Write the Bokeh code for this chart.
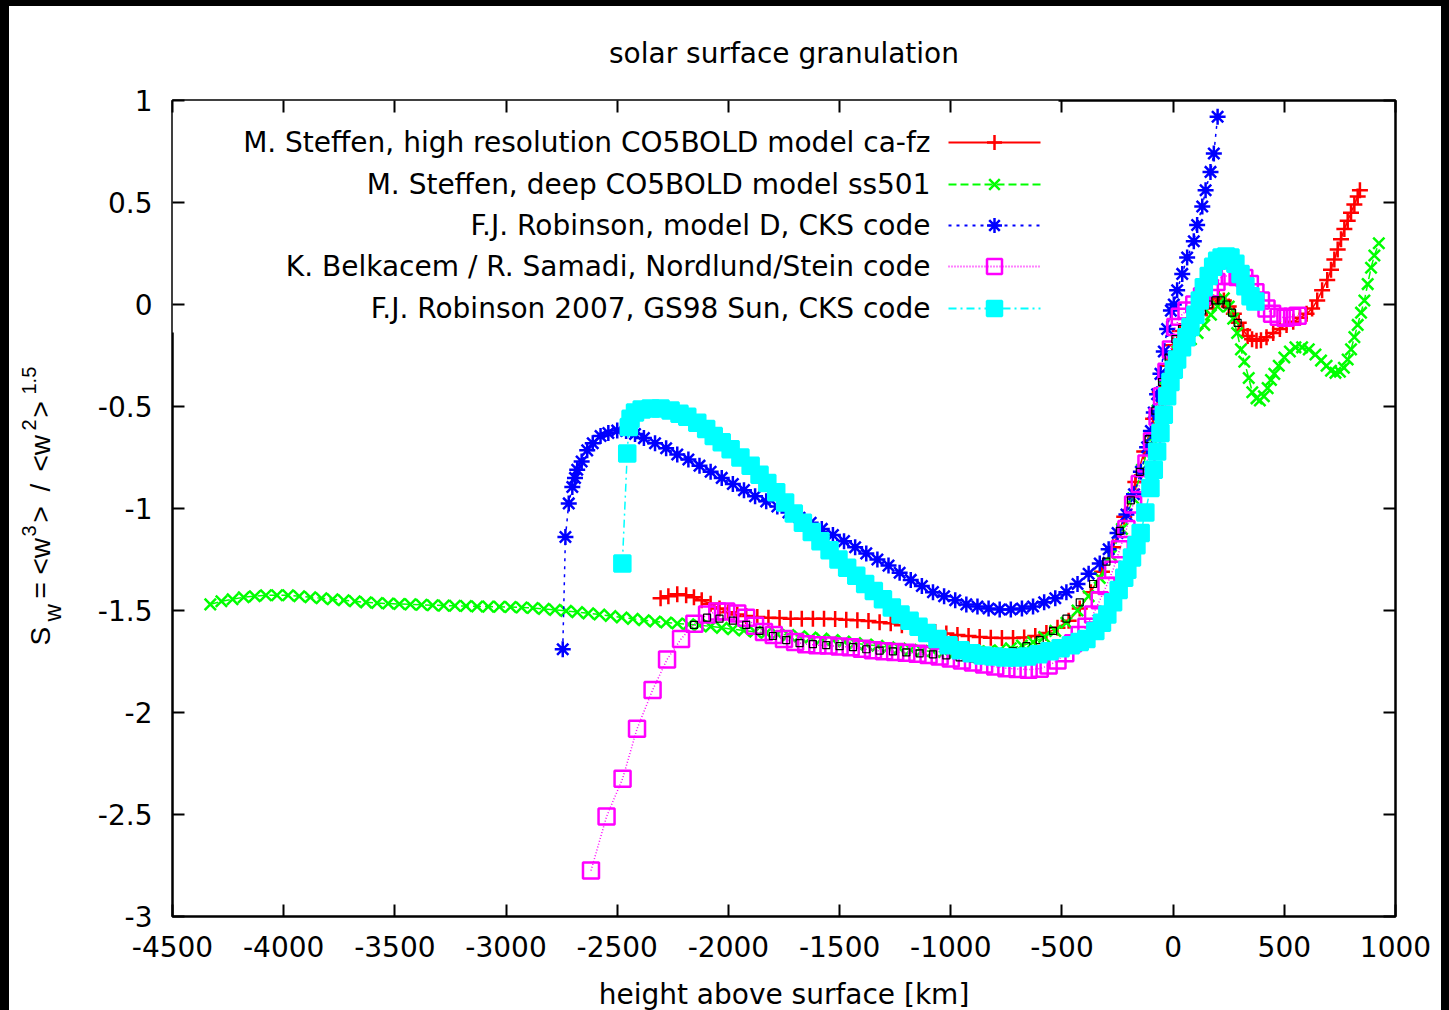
import math
from bokeh.plotting import figure
from bokeh.models import Range1d, FixedTicker, LinearAxis, Label, ColumnDataSource
from bokeh.core.properties import value
from bokeh.layouts import column, row
from bokeh.embed import file_html
from bokeh.resources import INLINE

# ---------------- data ----------------
title_text = "solar surface granulation"
x_label_text = "height above surface [km]"

x_ticks = [-4500, -4000, -3500, -3000, -2500, -2000, -1500, -1000, -500, 0, 500, 1000]
x_tick_labels = ["-4500", "-4000", "-3500", "-3000", "-2500", "-2000", "-1500", "-1000", "-500", "0", "500", "1000"]
y_ticks = [-3, -2.5, -2, -1.5, -1, -0.5, 0, 0.5, 1]
y_tick_labels = ["-3", "-2.5", "-2", "-1.5", "-1", "-0.5", "0", "0.5", "1"]

series_names = [
    "M. Steffen, high resolution CO5BOLD model ca-fz",
    "M. Steffen, deep CO5BOLD model ss501",
    "F.J. Robinson, model D, CKS code",
    "K. Belkacem / R. Samadi, Nordlund/Stein code",
    "F.J. Robinson 2007, GS98 Sun, CKS code",
]

red_x = [-2305, -2270, -2230, -2190, -2155, -2120, -2080, -2040, -2000, -1960, -1920, -1870, -1820,
         -1770, -1720, -1670, -1620, -1570, -1520, -1470, -1420, -1370, -1320, -1270, -1220, -1170,
         -1120, -1070, -1020, -970, -920, -870, -820, -770, -720, -670, -620, -570, -520, -470, -420,
         -370, -320, -270, -220, -170, -130, -90, -60, -30, 0, 30, 60, 90, 120, 150, 180, 205, 228,
         250, 273, 295, 315, 335, 355, 375, 395, 420, 450, 480, 510, 540, 570, 600, 625, 648, 670,
         693, 710, 725, 740, 755, 770, 785, 800, 815, 830, 840]
red_y = [-1.44, -1.43, -1.42, -1.425, -1.435, -1.45, -1.467, -1.49, -1.508, -1.52, -1.527, -1.532,
         -1.535, -1.537, -1.54, -1.54, -1.54, -1.54, -1.542, -1.545, -1.548, -1.552, -1.557, -1.563,
         -1.572, -1.583, -1.595, -1.605, -1.613, -1.62, -1.625, -1.63, -1.633, -1.635, -1.635, -1.632,
         -1.625, -1.61, -1.585, -1.55, -1.49, -1.41, -1.31, -1.19, -1.04, -0.87, -0.72, -0.56, -0.43,
         -0.30, -0.20, -0.13, -0.10, -0.08, -0.05, -0.02, 0.01, 0.03, 0.02, -0.01, -0.045, -0.09,
         -0.125, -0.155, -0.17, -0.178, -0.175, -0.16, -0.14, -0.12, -0.10, -0.085, -0.065, -0.045,
         -0.02, 0.02, 0.07, 0.12, 0.17, 0.22, 0.27, 0.32, 0.37, 0.41, 0.45, 0.49, 0.53, 0.56]

green_x = [-4330, -4280, -4230, -4180, -4130, -4080, -4030, -3980, -3930, -3880, -3830, -3780, -3730,
           -3680, -3630, -3580, -3530, -3480, -3430, -3380, -3330, -3280, -3230, -3180, -3130, -3080,
           -3030, -2980, -2930, -2880, -2830, -2780, -2730, -2680, -2630, -2580, -2530, -2480, -2430,
           -2380, -2330, -2280, -2230, -2180, -2130, -2080, -2030, -1980, -1930, -1880, -1830, -1780,
           -1730, -1680, -1630, -1580, -1530, -1480, -1430, -1380, -1330, -1280, -1230, -1180, -1130,
           -1080, -1030, -980, -930, -880, -830, -780, -730, -680, -630, -580, -530, -480, -430, -380,
           -330, -280, -230, -180, -140, -100, -70, -40, -10, 20, 50, 80, 110, 140, 170, 200, 228, 250,
           270, 288, 305, 320, 340, 356, 375, 390, 408, 425, 440, 455, 475, 500, 525, 550, 580, 610,
           640, 665, 690, 710, 730, 750, 768, 785, 800, 815, 830, 845, 860, 875, 890, 905, 925]
green_y = [-1.47, -1.455, -1.445, -1.435, -1.43, -1.425, -1.425, -1.425, -1.43, -1.435, -1.44, -1.445,
           -1.45, -1.455, -1.46, -1.463, -1.466, -1.468, -1.47, -1.472, -1.474, -1.476, -1.477, -1.478,
           -1.48, -1.481, -1.482, -1.483, -1.485, -1.488, -1.492, -1.497, -1.502, -1.508, -1.514, -1.52,
           -1.527, -1.534, -1.541, -1.548, -1.554, -1.559, -1.564, -1.568, -1.572, -1.578, -1.585,
           -1.592, -1.598, -1.604, -1.61, -1.615, -1.62, -1.626, -1.632, -1.638, -1.645, -1.652, -1.66,
           -1.667, -1.673, -1.68, -1.686, -1.692, -1.697, -1.70, -1.703, -1.705, -1.705, -1.703, -1.70,
           -1.695, -1.685, -1.672, -1.655, -1.63, -1.60, -1.56, -1.50, -1.43, -1.34, -1.23, -1.10,
           -0.95, -0.81, -0.65, -0.52, -0.40, -0.30, -0.23, -0.19, -0.17, -0.14, -0.10, -0.05, -0.01,
           0.03, -0.01, -0.07, -0.14, -0.22, -0.28, -0.36, -0.43, -0.46, -0.47, -0.45, -0.41, -0.37,
           -0.34, -0.30, -0.26, -0.23, -0.21, -0.21, -0.22, -0.245, -0.275, -0.30, -0.325, -0.335,
           -0.33, -0.31, -0.27, -0.22, -0.16, -0.10, -0.04, 0.02, 0.10, 0.18, 0.24, 0.30]

blue_x = [-2745, -2733, -2718, -2702, -2690, -2680, -2660, -2635, -2610, -2575, -2540, -2500, -2460,
          -2420, -2380, -2330, -2280, -2230, -2180, -2130, -2080, -2030, -1980, -1930, -1880, -1830,
          -1780, -1730, -1680, -1630, -1580, -1530, -1480, -1430, -1380, -1330, -1280, -1230, -1180,
          -1130, -1080, -1030, -980, -930, -880, -830, -780, -730, -680, -630, -580, -530, -480, -430,
          -380, -330, -290, -250, -210, -176, -145, -117, -100, -87, -72, -57, -42, -27, -10, 3, 18,
          41, 63, 93, 108, 131, 146, 168, 183, 200]
blue_y = [-1.69, -1.14, -0.975, -0.895, -0.85, -0.81, -0.77, -0.715, -0.68, -0.645, -0.63, -0.618,
          -0.62, -0.635, -0.655, -0.68, -0.705, -0.735, -0.76, -0.79, -0.82, -0.85, -0.88, -0.91,
          -0.94, -0.965, -0.99, -1.02, -1.045, -1.07, -1.10, -1.13, -1.16, -1.19, -1.22, -1.25, -1.28,
          -1.315, -1.35, -1.38, -1.41, -1.43, -1.45, -1.47, -1.48, -1.49, -1.495, -1.495, -1.49,
          -1.48, -1.46, -1.44, -1.41, -1.37, -1.32, -1.27, -1.20, -1.12, -1.03, -0.93, -0.82, -0.70,
          -0.62, -0.53, -0.44, -0.34, -0.23, -0.12, -0.03, 0.0, 0.07, 0.15, 0.23, 0.31, 0.39, 0.48,
          0.56, 0.65, 0.74, 0.92]

magenta_x = [-2618, -2548, -2476, -2411, -2341, -2276, -2213, -2153, -2096, -2050, -2010, -1960,
             -1920, -1880, -1840, -1796, -1750, -1700, -1650, -1600, -1550, -1500, -1450, -1400,
             -1350, -1300, -1250, -1200, -1150, -1100, -1050, -1000, -950, -900, -850, -800, -750,
             -700, -650, -600, -560, -520, -485, -450, -420, -390, -360, -330, -300, -270, -240,
             -210, -180, -150, -120, -95, -70, -50, -30, -10, 10, 30, 60, 95, 130, 165, 195, 225, 255,
             290, 320, 345, 370, 395, 420, 445, 475, 505, 535, 560]
magenta_y = [-2.775, -2.51, -2.325, -2.08, -1.89, -1.74, -1.64, -1.565, -1.52, -1.505, -1.505,
             -1.515, -1.535, -1.575, -1.605, -1.62, -1.64, -1.655, -1.665, -1.67, -1.672, -1.676,
             -1.68, -1.687, -1.695, -1.70, -1.703, -1.707, -1.712, -1.718, -1.725, -1.735, -1.745,
             -1.755, -1.765, -1.775, -1.783, -1.787, -1.79, -1.785, -1.77, -1.745, -1.71, -1.66,
             -1.62, -1.58, -1.52, -1.45, -1.38, -1.30, -1.20, -1.10, -0.98, -0.88, -0.78, -0.67,
             -0.55, -0.45, -0.33, -0.22, -0.11, -0.06, -0.03, 0.0, 0.04, 0.08, 0.11, 0.14, 0.14,
             0.135, 0.13, 0.10, 0.06, 0.02, -0.02, -0.045, -0.06, -0.065, -0.06, -0.055]

cyan_x = [-2477, -2455, -2448, -2440, -2420, -2390, -2350, -2305, -2260, -2220, -2185, -2140, -2100,
          -2066, -2030, -1990, -1946, -1900, -1860, -1825, -1785, -1745, -1706, -1665, -1625, -1586,
          -1545, -1505, -1466, -1425, -1385, -1346, -1305, -1265, -1226, -1185, -1145, -1106, -1060,
          -1010, -956, -906, -856, -806, -756, -706, -656, -606, -556, -506, -460, -420, -390, -350,
          -320, -296, -270, -245, -220, -206, -185, -165, -146, -125, -102, -87, -72, -57, -42, -27,
          -12, 3, 18, 40, 60, 78, 100, 120, 138, 160, 180, 198, 218, 238, 258, 280, 303, 325, 348, 370]
cyan_y = [-1.27, -0.73, -0.60, -0.56, -0.53, -0.515, -0.51, -0.51, -0.52, -0.535, -0.55, -0.58, -0.61,
          -0.645, -0.675, -0.71, -0.75, -0.79, -0.835, -0.875, -0.92, -0.97, -1.025, -1.07, -1.115,
          -1.16, -1.205, -1.25, -1.29, -1.33, -1.37, -1.405, -1.445, -1.485, -1.52, -1.55, -1.58,
          -1.61, -1.64, -1.67, -1.695, -1.71, -1.72, -1.725, -1.73, -1.73, -1.725, -1.715, -1.70,
          -1.685, -1.67, -1.655, -1.64, -1.60, -1.56, -1.52, -1.46, -1.40, -1.34, -1.30, -1.24, -1.18,
          -1.12, -1.02, -0.90, -0.81, -0.72, -0.63, -0.54, -0.45, -0.38, -0.32, -0.27, -0.21, -0.16,
          -0.11, -0.05, 0.02, 0.085, 0.14, 0.185, 0.215, 0.23, 0.235, 0.23, 0.20, 0.15, 0.09, 0.04,
          0.015]

black_x = [-2155, -2096, -2040, -1980, -1920, -1860, -1800, -1740, -1680, -1620, -1560, -1500, -1440,
           -1380, -1320, -1260, -1200, -1140, -1080, -1020, -960, -900, -840, -780, -720, -660, -600,
           -540, -480, -420, -360, -300, -240, -190, -150, -110, -80, -50, -20, 10, 40, 70, 100, 130,
           160, 190, 215, 240, 265, 290]
black_y = [-1.57, -1.535, -1.54, -1.55, -1.57, -1.60, -1.625, -1.645, -1.66, -1.665, -1.67, -1.675,
           -1.68, -1.69, -1.697, -1.70, -1.705, -1.71, -1.715, -1.72, -1.73, -1.735, -1.73, -1.715,
           -1.70, -1.675, -1.645, -1.60, -1.54, -1.46, -1.37, -1.26, -1.11, -0.96, -0.82, -0.66,
           -0.52, -0.38, -0.26, -0.17, -0.12, -0.09, -0.06, -0.03, 0.0, 0.02, 0.02, 0.0, -0.04, -0.09]

# y-axis label pieces: S_w = <w^3> / <w^2>^1.5
ylabel_texts = ["S", "w", "=", "<w", "3", ">", "/", "<w", "2", ">", "1.5"]
ylabel_kind = ["main", "sub", "main", "main", "sup", "main", "main", "main", "sup", "main", "sup"]

# ---------------- styles / layout ----------------
FONT = "DejaVu Sans"
FS = "28px"
colors = ["#ff0000", "#00ff00", "#0000ff", "#ff00ff", "#00ffff"]
markers = ["cross", "x", "asterisk", "square", "square"]
fills = [None, None, None, None, "#00ffff"]
dashes = ["solid", "8 4", "3 5", "1 2", "8 4 2 4"]

PAGE_W, PAGE_H = 1449, 1010
ML, MT, MR = 9, 6, 8           # black page border
INNER_W = PAGE_W - ML - MR     # 1432
LAB_W = 70                     # strip holding the rotated y label
FW, FH = 1223, 816             # plot frame size in px
FRAME_L, FRAME_R, FRAME_T, FRAME_B = 172, 1395, 100, 916   # page px
TOP_B = 84                     # bottom of the title strip (page y)
MID_B = 972                    # bottom of the plot row (page y)
TITLE_Y = 53                   # text anchors inside the strips
XLABEL_Y = 994


def text_strip(width, x0, y0, y1):
    """A bare figure whose frame spans the given page area, in page px units."""
    f = figure(width=width, height=y1 - y0, x_range=Range1d(x0, x0 + width),
               y_range=Range1d(y1, y0), output_backend="svg", toolbar_location=None,
               min_border=0, x_axis_type=None, y_axis_type=None)
    f.outline_line_color = None
    f.background_fill_color = "white"
    f.border_fill_color = "white"
    return f


# ---------------- title strip ----------------
tt = text_strip(INNER_W, ML, MT, TOP_B)
tt.text(x=[(FRAME_L + FRAME_R) / 2], y=[TITLE_Y], text=[title_text], text_align="center",
        text_baseline="alphabetic", text_font=value(FONT), text_font_size=FS, text_color="black")

# ---------------- x-label strip ----------------
xl = text_strip(INNER_W, ML, MID_B, PAGE_H)
xl.text(x=[(FRAME_L + FRAME_R) / 2], y=[XLABEL_Y], text=[x_label_text], text_align="center",
        text_baseline="alphabetic", text_font=value(FONT), text_font_size=FS, text_color="black")

# ---------------- y-label strip (frame = page y 100..916) ----------------
lab = figure(width=LAB_W, height=MID_B - TOP_B, x_range=Range1d(ML, ML + LAB_W),
             y_range=Range1d(FRAME_B, FRAME_T), output_backend="svg", toolbar_location=None,
             min_border_left=0, min_border_right=0, min_border_top=FRAME_T - TOP_B,
             min_border_bottom=MID_B - FRAME_B, x_axis_type=None, y_axis_type=None)
lab.outline_line_color = None
lab.background_fill_color = "white"
lab.border_fill_color = "white"

kind_size = {"main": "28px", "sub": "24px", "sup": "20px"}
kind_base = {"main": 40, "sub": 52, "sup": 28}
piece_start = [645, 621, 598, 574, 536, 522, 491, 471, 430, 417, 394]
lab_src = ColumnDataSource(dict(
    x=[kind_base[k] for k in ylabel_kind],
    y=piece_start,
    text=ylabel_texts,
    size=[kind_size[k] for k in ylabel_kind],
))
lab.text(x="x", y="y", text="text", source=lab_src, angle=math.pi / 2, text_align="left",
         text_baseline="alphabetic", text_font=value("Liberation Sans"), text_font_size="size",
         text_color="black")

# ---------------- main figure ----------------
p = figure(width=INNER_W - LAB_W, height=MID_B - TOP_B, title=None,
           x_range=Range1d(-4500, 1000), y_range=Range1d(-3, 1),
           output_backend="svg", toolbar_location=None,
           min_border_left=FRAME_L - ML - LAB_W, min_border_right=PAGE_W - MR - FRAME_R,
           min_border_top=FRAME_T - TOP_B, min_border_bottom=MID_B - FRAME_B,
           x_axis_type=None, y_axis_type=None)
p.background_fill_color = "white"
p.border_fill_color = "white"
p.outline_line_color = "black"
p.outline_line_width = 2.5
p.extra_x_ranges = {"lx": Range1d(0, FW)}
p.extra_y_ranges = {"ly": Range1d(FH, 0)}


def make_axis(ticks, labels, show):
    ax = LinearAxis(ticker=FixedTicker(ticks=ticks))
    ax.major_label_overrides = {t: (l if show else "") for t, l in zip(ticks, labels)}
    ax.major_label_text_font = FONT
    ax.major_label_text_font_size = FS if show else "1px"
    ax.major_label_standoff = 19 if show else 0
    ax.major_label_text_color = "black"
    ax.major_tick_in = 12
    ax.major_tick_out = 0
    ax.major_tick_line_width = 2
    ax.major_tick_line_color = "black"
    ax.minor_tick_in = 0
    ax.minor_tick_out = 0
    ax.minor_tick_line_color = None
    ax.axis_line_color = None
    return ax


xb = make_axis(x_ticks, x_tick_labels, True)
yl = make_axis(y_ticks, y_tick_labels, True)
yl.major_label_standoff = 20
p.add_layout(xb, "below")
p.add_layout(yl, "left")
p.add_layout(make_axis(x_ticks, x_tick_labels, False), "above")
p.add_layout(make_axis(y_ticks, y_tick_labels, False), "right")

p.xgrid.ticker = FixedTicker(ticks=x_ticks)
p.ygrid.ticker = FixedTicker(ticks=y_ticks)
for g in (p.xgrid, p.ygrid):
    g.grid_line_color = "#7a7a7a"
    g.grid_line_dash = "1 3"
    g.grid_line_width = 1.3

# opaque key box (hides grid behind the legend, as in the reference)
p.quad(left=[0], right=[886], top=[0], bottom=[232], x_range_name="lx", y_range_name="ly",
       fill_color="white", line_color=None)

# ---------------- data series ----------------
all_x = [red_x, green_x, blue_x, magenta_x, cyan_x]
all_y = [red_y, green_y, blue_y, magenta_y, cyan_y]


def draw_series(i):
    c = colors[i]
    p.line(all_x[i], all_y[i], line_color=c, line_width=1.5, line_dash=dashes[i])
    p.scatter(all_x[i], all_y[i], marker=markers[i], size=16, line_color=c, line_width=2.5,
              fill_color=fills[i])


for i in range(4):
    draw_series(i)
p.scatter(black_x, black_y, marker="square", size=7, line_color="black", line_width=1.2,
          fill_color=None)
draw_series(4)

# ---------------- key (text left of the sample, as gnuplot does) ----------------
row_y = [42, 84, 125, 166, 208]
for i, name in enumerate(series_names):
    ry = row_y[i]
    p.add_layout(Label(x=758, y=ry, x_range_name="lx", y_range_name="ly", text=name,
                       text_align="right", text_baseline="middle", text_font=FONT,
                       text_font_size=FS, text_color="black"))
    p.line([776, 868], [ry, ry], x_range_name="lx", y_range_name="ly", line_color=colors[i],
           line_width=2, line_dash=dashes[i])
    p.scatter([822], [ry], x_range_name="lx", y_range_name="ly", marker=markers[i], size=15,
              line_color=colors[i], line_width=2.5, fill_color=fills[i])

layout = column(tt, row(lab, p), xl, width=PAGE_W, height=PAGE_H,
                styles={"background-color": "white", "border-style": "solid",
                        "border-color": "black", "border-width": f"{MT}px {MR}px 0px {ML}px",
                        "box-sizing": "border-box", "overflow": "hidden"})

open("out.html", "w").write(file_html(layout, INLINE))
